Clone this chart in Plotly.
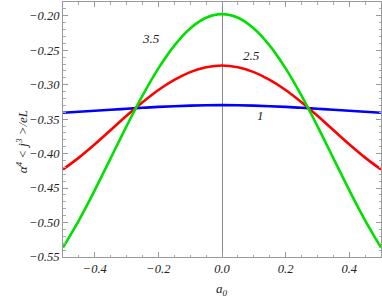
import plotly.graph_objects as go

a0 = [-0.5, -0.45, -0.4, -0.35, -0.3, -0.25, -0.2, -0.15, -0.1, -0.05, 0.0,
      0.05, 0.1, 0.15, 0.2, 0.25, 0.3, 0.35, 0.4, 0.45, 0.5]

green_half = [-0.5363, -0.4968, -0.4529, -0.4065, -0.3600, -0.3159, -0.2763, -0.2432, -0.2183, -0.2028, -0.1976]
red_half = [-0.4230, -0.4058, -0.3864, -0.3657, -0.3451, -0.3254, -0.3076, -0.2929, -0.2817, -0.2748, -0.2722]
blue_half = [-0.3406, -0.3392, -0.3378, -0.3363, -0.3349, -0.3335, -0.3322, -0.3312, -0.3304, -0.3299, -0.3297]

green_vals = green_half + green_half[-2::-1]
red_vals = red_half + red_half[-2::-1]
blue_vals = blue_half + blue_half[-2::-1]

labels = ["3.5", "2.5", "1"]
label_x = [-0.223, 0.094, 0.121]
label_y = [-0.2324, -0.2569, -0.3447]

y_ticks = [-0.20, -0.25, -0.30, -0.35, -0.40, -0.45, -0.50, -0.55]
x_ticks = [-0.4, -0.2, 0.0, 0.2, 0.4]

font_family = "Liberation Serif, Times New Roman, serif"

fig = go.Figure()
for vals, col in [(blue_vals, "#0000ff"), (red_vals, "#ff0000"), (green_vals, "#00e000")]:
    fig.add_trace(go.Scatter(x=a0, y=vals, mode="lines",
                             line=dict(color=col, width=2.6, shape="spline", smoothing=1.0),
                             showlegend=False, hoverinfo="skip"))

for t, x, y in zip(labels, label_x, label_y):
    fig.add_annotation(x=x, y=y, text="<i>" + t + "</i>", showarrow=False,
                       font=dict(family=font_family, size=13, color="#222"))

fig.add_annotation(xref="paper", yref="paper", x=0.5, y=-0.085, yanchor="top",
                   text="<i>a<sub>0</sub></i>", showarrow=False,
                   font=dict(family=font_family, size=13, color="#222"))
fig.add_annotation(xref="paper", yref="paper", x=-0.16, y=0.45, textangle=-90,
                   text="<i>α<sup>4</sup> < j<sup>3</sup> >/eL</i>", showarrow=False,
                   font=dict(family=font_family, size=13, color="#222"))

axis_common = dict(showline=True, linecolor="#999", linewidth=1, mirror="ticks",
                   ticks="inside", ticklen=5, tickcolor="#999", showgrid=False,
                   automargin=False,
                   tickfont=dict(family=font_family, size=12.5, color="#222"))

fig.update_xaxes(range=[-0.5, 0.5], tickvals=x_ticks,
                 ticktext=["<i>" + f"{v:.1f}".replace("-", "−") + "</i>" for v in x_ticks],
                 zeroline=True, zerolinecolor="#888", zerolinewidth=1,
                 minor=dict(dtick=0.05, ticks="inside", ticklen=2.5, tickcolor="#aaa", showgrid=False),
                 **axis_common)
fig.update_yaxes(range=[-0.55, -0.18], tickvals=y_ticks,
                 ticktext=["<i>" + f"{v:.2f}".replace("-", "−") + "</i>" for v in y_ticks],
                 zeroline=False,
                 minor=dict(dtick=0.01, ticks="inside", ticklen=2.5, tickcolor="#aaa", showgrid=False),
                 **axis_common)

fig.update_layout(width=382, height=300, margin=dict(l=63, r=1, t=2, b=43, autoexpand=False),
                  plot_bgcolor="white", paper_bgcolor="white")

fig.write_html("out.html", config={"displayModeBar": False},
               post_script="document.body.style.margin='0';document.body.style.overflow='hidden';")
